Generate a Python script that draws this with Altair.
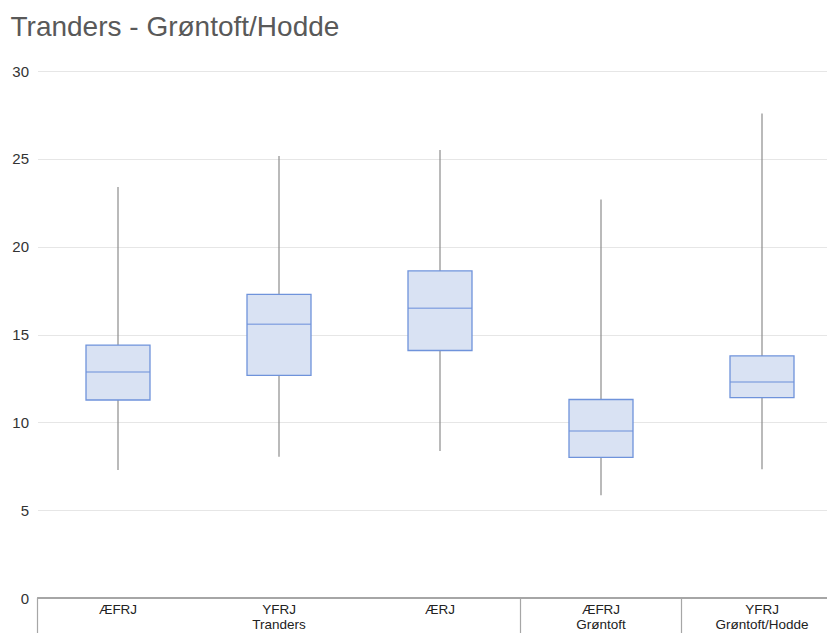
import altair as alt
import pandas as pd

# ---- data ----
categories = ["ÆFRJ", "YFRJ", "ÆRJ", "ÆFRJ", "YFRJ"]
groups = ["Tranders", "Grøntoft", "Grøntoft/Hodde"]
group_start = [0, 3, 4]      # first category index of each group
group_center = [1, 3, 4]     # category index under which the group name sits
whisker_low = [7.28, 8.04, 8.37, 5.85, 7.33]
q1 = [11.27, 12.67, 14.09, 8.01, 11.41]
median = [12.86, 15.58, 16.50, 9.51, 12.30]
q3 = [14.40, 17.28, 18.62, 11.30, 13.78]
whisker_high = [23.39, 25.16, 25.50, 22.69, 27.58]
y_ticks = [0, 5, 10, 15, 20, 25, 30]

df = pd.DataFrame({
    "idx": list(range(len(categories))),
    "cat": categories,
    "lo": whisker_low, "q1": q1, "med": median, "q3": q3, "hi": whisker_high,
})
gdf = pd.DataFrame({"group": groups, "start": group_start, "center": group_center})

W = 805
H = 527
FONT = "Liberation Sans"
BOX_FILL = "#d9e2f3"
BOX_STROKE = "#6f93db"
WHISKER = "#8c8c8c"

xenc = alt.X("idx:O", scale=alt.Scale(paddingInner=0, paddingOuter=0,
                                      domain=list(range(len(categories)))),
             axis=None)
yscale = alt.Scale(domain=[0, 30], nice=False, zero=True)

base = alt.Chart(df)

whiskers = base.mark_rule(color=WHISKER, strokeWidth=1.2).encode(
    x=xenc,
    y=alt.Y("lo:Q", scale=yscale,
            axis=alt.Axis(values=y_ticks, grid=True, gridColor="#e6e6e6",
                          gridWidth=1, domain=False, ticks=False,
                          labelPadding=9, labelFontSize=15, labelColor="#333333",
                          labelFont=FONT, title=None)),
    y2="hi:Q",
)

boxes = base.mark_bar(size=64, fill=BOX_FILL, stroke=BOX_STROKE,
                      strokeWidth=1.3).encode(
    x=xenc, y=alt.Y("q1:Q", scale=yscale), y2="q3:Q")

medians = base.mark_tick(size=64, thickness=1.5, color=BOX_STROKE).encode(
    x=xenc, y=alt.Y("med:Q", scale=yscale))

xaxis_line = base.mark_rule(color="#a6a6a6", strokeWidth=1.5).encode(
    x=alt.value(0), x2=alt.value(W), y=alt.datum(0, scale=yscale))

cat_labels = base.mark_text(fontSize=13.5, font=FONT, color="#222222",
                            baseline="alphabetic").encode(
    x=xenc, y=alt.value(H + 16), text="cat:N")

gbase = alt.Chart(gdf)
group_labels = gbase.mark_text(fontSize=13.5, font=FONT, color="#222222",
                               baseline="alphabetic").encode(
    x=alt.X("center:O", scale=alt.Scale(paddingInner=0, paddingOuter=0),
            axis=None),
    y=alt.value(H + 31), text="group:N")

separators = gbase.mark_rule(color="#a6a6a6", strokeWidth=1.2).encode(
    x=alt.X("start:O", bandPosition=0,
            scale=alt.Scale(paddingInner=0, paddingOuter=0), axis=None),
    y=alt.value(H), y2=alt.value(H + 60))

chart = alt.layer(whiskers, boxes, medians, xaxis_line, cat_labels,
                  group_labels, separators).resolve_scale(x="shared").properties(
    width=W, height=H,
    title=alt.Title("Tranders - Grøntoft/Hodde", anchor="start", frame="group",
                    fontSize=28, font=FONT, fontWeight="normal",
                    color="#595959", dx=-27, offset=22.5),
    autosize=alt.AutoSizeParams(type="none"),
    padding={"left": 29.5, "top": 63, "right": -15.5, "bottom": 35},
).configure_view(stroke=None)

chart.save("out.html", embed_options={"renderer": "svg", "actions": False})
